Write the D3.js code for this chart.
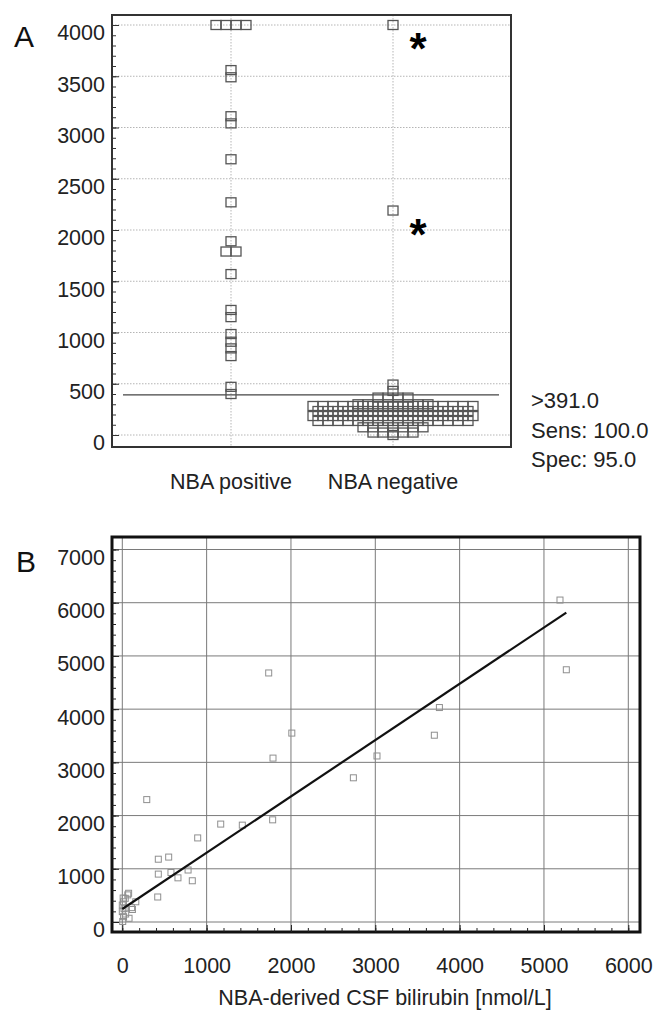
<!DOCTYPE html>
<html>
  <head>
    <meta charset="utf-8">
    <title>NBA-derived CSF bilirubin</title>
    <script src="https://d3js.org/d3.v7.min.js"></script>
    <style>
      body { margin: 0; background: #fff; }
      svg { display: block; font-family: "Liberation Sans", Arial, sans-serif; }
    </style>
  </head>
  <body>
    <svg id="chart" width="655" height="1012"></svg>
    <script>
      // panel A: dot plot, one value level per row with its count
      groups = ["NBA positive", "NBA negative"];
      posLevels = [4000, 3560, 3490, 3110, 3040, 2690, 2270, 1890, 1790, 1570, 1220, 1150, 985, 910, 845, 770, 470, 400];
      posCounts = [4, 1, 1, 1, 1, 1, 1, 1, 2, 1, 1, 1, 1, 1, 1, 1, 1, 1];
      negLevels = [4000, 2190, 492, 430, 365, 300, 283, 234, 185, 137, 75, 24, 0];
      negCounts = [1, 1, 1, 1, 4, 8, 17, 16, 17, 16, 7, 5, 1];
      starred = [4000, 2190];
      cutoff = 391;
      cutoffText = [">391.0", "Sens: 100.0", "Spec: 95.0"];
      ticksA = d3.range(0, 4001, 500);
      minorA = d3.range(0, 4001, 100);

      // panel B: scatter against NBA-derived CSF bilirubin
      nbaBili = [5190, 5265, 3760, 3700, 3020, 2740, 1736, 2010, 1787, 290, 1167, 1423, 1783, 894, 427, 550, 427, 577, 660, 780, 830, 420, 65, 120, 15, 0, 0, 15, 5, 35, 75, 110, 80, 160, 20, 40, 10];
      refBili = [6050, 4740, 4030, 3510, 3120, 2710, 4680, 3550, 3080, 2300, 1840, 1820, 1920, 1580, 1180, 1220, 900, 930, 830, 977, 775, 470, 510, 235, 380, 320, 195, 100, 10, 445, 540, 270, 70, 380, 250, 150, 450];
      fitSlope = 1.058;
      fitIntercept = 244;
      ticksBx = d3.range(0, 6001, 1000);
      ticksBy = d3.range(0, 7001, 1000);
      minorBx = d3.range(0, 6001, 200);
      minorBy = d3.range(0, 7001, 200);

      svg = d3.select("#chart");
      labelSize = "21.5px";
      plain = d3.format("d");

      // ---------- panel A ----------
      frameA = {left: 112, right: 511, top: 15, bottom: 447};
      yA = d3.scaleLinear().domain([0, 4000]).range([435, 25]);
      xA = d3.scalePoint().domain(groups).range([231, 393]);
      boxW = 10;
      boxH = 9;

      function expand(levels, counts, group) {
        let out = [];
        levels.forEach(function(v, i) {
          for (let k = 0; k < counts[i]; k++) {
            out.push({group: group, value: v, offset: k - (counts[i] - 1) / 2});
          }
        });
        return out;
      }
      dots = expand(posLevels, posCounts, groups[0]).concat(expand(negLevels, negCounts, groups[1]));

      a = svg.append("g");
      // dotted grid
      a.selectAll(".hgrid").data(ticksA).enter().append("line")
        .attr("x1", frameA.left).attr("x2", frameA.right)
        .attr("y1", d => yA(d)).attr("y2", d => yA(d))
        .attr("stroke", "#b5b5b5").attr("stroke-dasharray", "1.5,1.5");
      a.selectAll(".vgrid").data(groups).enter().append("line")
        .attr("x1", d => xA(d)).attr("x2", d => xA(d))
        .attr("y1", frameA.top).attr("y2", frameA.bottom)
        .attr("stroke", "#b5b5b5").attr("stroke-dasharray", "1.5,1.5");
      // cut-off line
      a.append("line")
        .attr("x1", frameA.left + 11).attr("x2", frameA.right - 12)
        .attr("y1", yA(cutoff)).attr("y2", yA(cutoff))
        .attr("stroke", "#444").attr("stroke-width", 1.2);
      // dots
      a.selectAll(".dot").data(dots).enter().append("rect")
        .attr("x", d => xA(d.group) + d.offset * boxW - boxW / 2)
        .attr("y", d => yA(d.value) - boxH / 2)
        .attr("width", boxW).attr("height", boxH)
        .attr("fill", "none").attr("stroke", "#555").attr("stroke-width", 1.3);
      // asterisks
      a.selectAll(".star").data(starred).enter().append("text")
        .attr("x", xA(groups[1]) + 25).attr("y", d => yA(d) + 39)
        .attr("text-anchor", "middle").attr("font-size", "44px").attr("font-weight", "bold")
        .text("*");
      // frame
      a.append("rect")
        .attr("x", frameA.left).attr("y", frameA.top)
        .attr("width", frameA.right - frameA.left).attr("height", frameA.bottom - frameA.top)
        .attr("fill", "none").attr("stroke", "#333").attr("stroke-width", 2);
      // y axis
      axA = a.append("g").attr("transform", "translate(" + frameA.left + ",0)")
        .call(d3.axisLeft(yA).tickValues(ticksA).tickFormat(plain).tickSizeInner(-7).tickSizeOuter(0).tickPadding(7));
      axA.select(".domain").remove();
      axA.selectAll("text").attr("y", 8).attr("font-size", labelSize).attr("font-family", null).attr("fill", "#222");
      axA.selectAll("line").attr("stroke", "#333");
      minA = a.append("g").attr("transform", "translate(" + frameA.left + ",0)")
        .call(d3.axisLeft(yA).tickValues(minorA).tickSize(-4).tickFormat(""));
      minA.select(".domain").remove();
      minA.selectAll("line").attr("stroke", "#333");
      // category labels
      a.selectAll(".cat").data(groups).enter().append("text")
        .attr("x", d => xA(d)).attr("y", 489)
        .attr("text-anchor", "middle").attr("font-size", labelSize).attr("fill", "#222")
        .text(d => d);
      // cut-off note
      a.selectAll(".note").data(cutoffText).enter().append("text")
        .attr("x", 531).attr("y", (d, i) => 408 + i * 29.5)
        .attr("font-size", "22px").attr("fill", "#222")
        .text(d => d);
      a.append("text").attr("x", 14).attr("y", 47).attr("font-size", "30px").attr("fill", "#111").text("A");

      // ---------- panel B ----------
      frameB = {left: 112, right: 640, top: 537, bottom: 932};
      xB = d3.scaleLinear().domain([0, 6000]).range([122.3, 628.3]);
      yB = d3.scaleLinear().domain([0, 7000]).range([922, 549.5]);
      pts = nbaBili.map((x, i) => ({x: x, y: refBili[i]}));
      mark = 6;

      b = svg.append("g");
      b.selectAll(".hgrid").data(ticksBy).enter().append("line")
        .attr("x1", frameB.left).attr("x2", frameB.right)
        .attr("y1", d => yB(d)).attr("y2", d => yB(d))
        .attr("stroke", "#7a7a7a").attr("stroke-width", 1);
      b.selectAll(".vgrid").data(ticksBx).enter().append("line")
        .attr("x1", d => xB(d)).attr("x2", d => xB(d))
        .attr("y1", frameB.top).attr("y2", frameB.bottom)
        .attr("stroke", "#7a7a7a").attr("stroke-width", 1);
      b.selectAll(".pt").data(pts).enter().append("rect")
        .attr("x", d => xB(d.x) - mark / 2).attr("y", d => yB(d.y) - mark / 2)
        .attr("width", mark).attr("height", mark)
        .attr("fill", "none").attr("stroke", "#8f8f8f").attr("stroke-width", 1);
      // regression line
      xExt = d3.extent(nbaBili);
      b.append("line")
        .attr("x1", xB(xExt[0])).attr("y1", yB(fitIntercept + fitSlope * xExt[0]))
        .attr("x2", xB(xExt[1])).attr("y2", yB(fitIntercept + fitSlope * xExt[1]))
        .attr("stroke", "#111").attr("stroke-width", 2.2);
      b.append("rect")
        .attr("x", frameB.left).attr("y", frameB.top)
        .attr("width", frameB.right - frameB.left).attr("height", frameB.bottom - frameB.top)
        .attr("fill", "none").attr("stroke", "#111").attr("stroke-width", 3);
      // axes, ticks pointing inwards
      axBy = b.append("g").attr("transform", "translate(" + frameB.left + ",0)")
        .call(d3.axisLeft(yB).tickValues(ticksBy).tickFormat(plain).tickSizeInner(-7).tickSizeOuter(0).tickPadding(7));
      axBy.selectAll("text").attr("y", 8);
      minBy = b.append("g").attr("transform", "translate(" + frameB.left + ",0)")
        .call(d3.axisLeft(yB).tickValues(minorBy).tickSize(-4).tickFormat(""));
      axBx = b.append("g").attr("transform", "translate(0," + frameB.bottom + ")")
        .call(d3.axisBottom(xB).tickValues(ticksBx).tickFormat(plain).tickSizeInner(-7).tickSizeOuter(0));
      axBx.selectAll("text").attr("y", 33).attr("dy", "0.35em");
      minBx = b.append("g").attr("transform", "translate(0," + frameB.bottom + ")")
        .call(d3.axisBottom(xB).tickValues(minorBx).tickSize(-4).tickFormat(""));
      b.selectAll(".domain").remove();
      b.selectAll(".tick line").attr("stroke", "#222");
      b.selectAll(".tick text").attr("font-size", labelSize).attr("font-family", null).attr("fill", "#222");
      b.append("text")
        .attr("x", 385).attr("y", 1005)
        .attr("text-anchor", "middle").attr("font-size", labelSize).attr("fill", "#222")
        .text("NBA-derived CSF bilirubin [nmol/L]");
      b.append("text").attr("x", 16).attr("y", 572).attr("font-size", "30px").attr("fill", "#111").text("B");
    </script>
  </body>
</html>
